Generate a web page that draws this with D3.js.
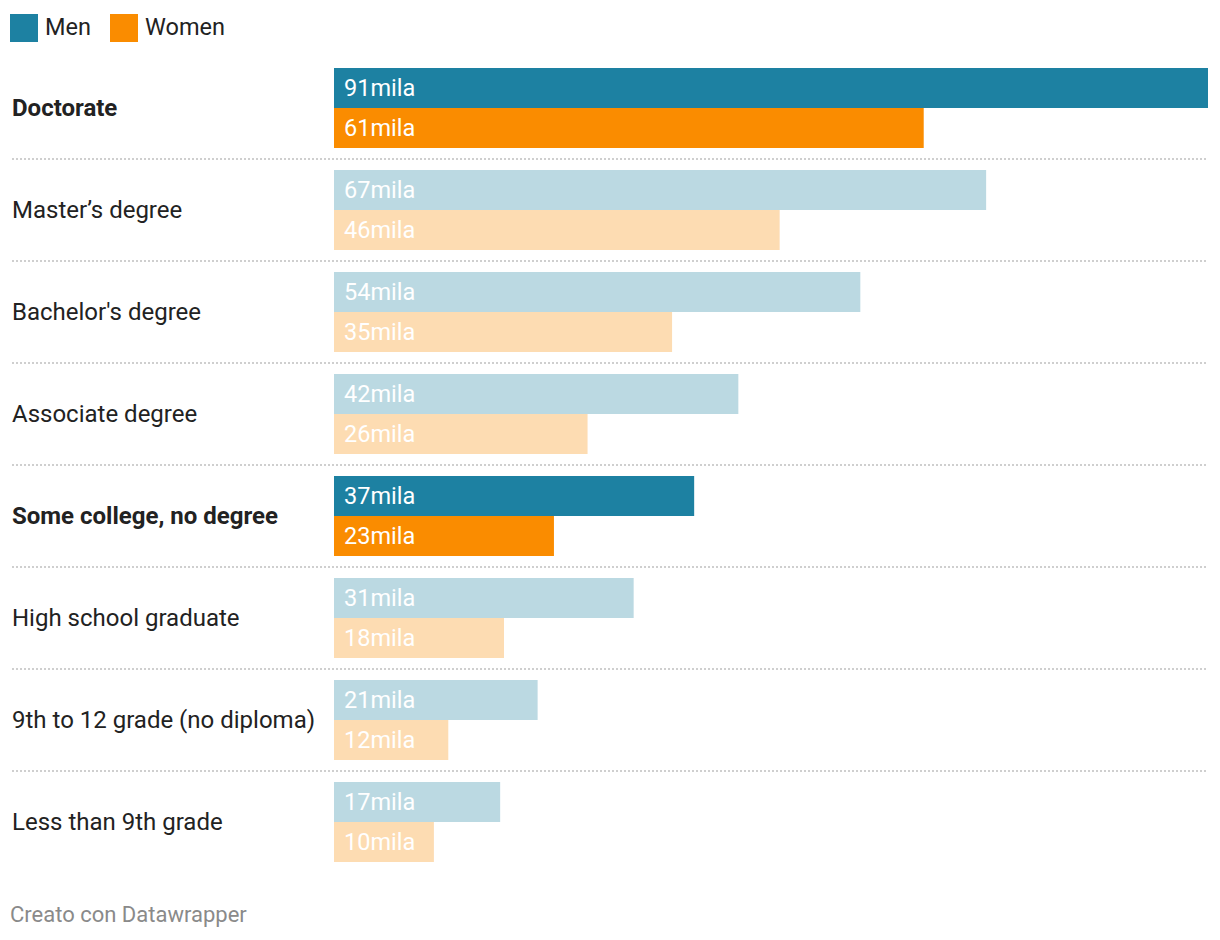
<!DOCTYPE html>
<html>
<head>
<meta charset="utf-8">
<script src="https://cdn.jsdelivr.net/npm/d3@7"></script>
<style>
  html, body { margin: 0; padding: 0; background: #fff; }
  svg { display: block; font-family: Roboto, "Noto Sans", sans-serif; }
</style>
</head>
<body>
<svg id="chart" width="1220" height="940"></svg>
<script>
// ---- data ----
const categories = [
  "Doctorate",
  "Master’s degree",
  "Bachelor's degree",
  "Associate degree",
  "Some college, no degree",
  "High school graduate",
  "9th to 12 grade (no diploma)",
  "Less than 9th grade"
];
const highlighted = ["Doctorate", "Some college, no degree"];
const seriesNames = ["Men", "Women"];
// values in thousands
const menValues   = [91.0, 67.9, 54.8, 42.1, 37.5, 31.2, 21.2, 17.3];
const womenValues = [61.4, 46.4, 35.2, 26.4, 22.9, 17.7, 11.9, 10.4];
// value labels as printed on the bars
const menLabels   = ["91mila", "67mila", "54mila", "42mila", "37mila", "31mila", "21mila", "17mila"];
const womenLabels = ["61mila", "46mila", "35mila", "26mila", "23mila", "18mila", "12mila", "10mila"];
const footerText = "Creato con Datawrapper";

// ---- layout ----
const svg = d3.select("#chart");
const colors = {
  Men:   { strong: "#1d81a2", light: "#bbd9e2" },
  Women: { strong: "#fa8c00", light: "#fddcb2" }
};

const barX0 = 334, barX1 = 1208;
const x = d3.scaleLinear().domain([0, d3.max(menValues)]).range([barX0, barX1]);
const rowTop = 68, rowStep = 102, barH = 40;
const y = d3.scaleBand().domain(categories).range([rowTop, rowTop + rowStep * categories.length]).paddingInner(0).paddingOuter(0);

// legend
const legend = svg.append("g");
const legendX = [10, 110];
seriesNames.forEach((s, i) => {
  legend.append("rect").attr("x", legendX[i]).attr("y", 14).attr("width", 28).attr("height", 28)
    .attr("fill", colors[s].strong);
  legend.append("text").attr("x", legendX[i] + 35).attr("y", 35)
    .attr("font-size", 23.5).attr("fill", "#222").text(s);
});

// rows
const rows = svg.append("g").selectAll("g").data(categories).join("g")
  .attr("transform", d => `translate(0,${y(d)})`);

rows.each(function(cat, i) {
  const g = d3.select(this);
  const hl = highlighted.includes(cat);
  g.append("text").attr("x", 12).attr("y", barH + 7.5)
    .attr("font-size", 24)
    .attr("font-weight", hl ? 700 : 400)
    .attr("fill", "#222")
    .text(cat);

  const vals = [menValues[i], womenValues[i]];
  const labs = [menLabels[i], womenLabels[i]];
  seriesNames.forEach((s, j) => {
    g.append("rect")
      .attr("x", x(0)).attr("y", j * barH)
      .attr("width", x(vals[j]) - x(0)).attr("height", barH)
      .attr("fill", hl ? colors[s].strong : colors[s].light);
    g.append("text")
      .attr("x", x(0) + 10).attr("y", j * barH + 28)
      .attr("font-size", 23.5).attr("fill", "#fff")
      .text(labs[j]);
  });

  if (i < categories.length - 1) {
    g.append("line")
      .attr("x1", 12).attr("x2", barX1)
      .attr("y1", 91).attr("y2", 91)
      .attr("stroke", "#cfcfcf").attr("stroke-width", 2)
      .attr("stroke-dasharray", "2,2");
  }
});

// footer
svg.append("text").attr("x", 10).attr("y", 921.5)
  .attr("font-size", 22).attr("fill", "#8a8a8a").text(footerText);
</script>
</body>
</html>
